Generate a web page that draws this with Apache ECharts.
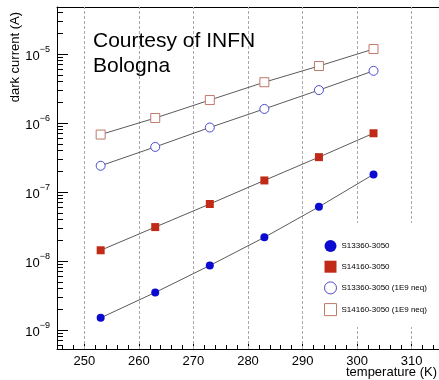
<!DOCTYPE html>
<html>
<head>
<meta charset="utf-8">
<script src="https://cdn.jsdelivr.net/npm/echarts@6/dist/echarts.min.js"></script>
<style>
  html, body { margin: 0; padding: 0; background: #fff; }
  #chart { width: 439px; height: 380px; }
</style>
</head>
<body>
<div id="chart"></div>
<script>
// temperature (K) of each measurement
const temps = [253, 263, 273, 283, 293, 303];
// dark current (A)
const s13360 = [1.5e-9, 3.5e-9, 8.6e-9, 2.2e-8, 6.1e-8, 1.8e-7];
const s14160 = [1.43e-8, 3.1e-8, 6.7e-8, 1.47e-7, 3.2e-7, 7.1e-7];
const s13360Irr = [2.4e-7, 4.5e-7, 8.6e-7, 1.6e-6, 3.0e-6, 5.7e-6];
const s14160Irr = [6.8e-7, 1.18e-6, 2.15e-6, 3.9e-6, 6.7e-6, 1.18e-5];

const names = ['S13360-3050', 'S14160-3050', 'S13360-3050 (1E9 neq)', 'S14160-3050 (1E9 neq)'];

const xTicks = [250, 260, 270, 280, 290, 300, 310];
const xMinorTicks = [246, 248, 252, 254, 256, 258, 262, 264, 266, 268, 272, 274, 276, 278,
  282, 284, 286, 288, 292, 294, 296, 298, 302, 304, 306, 308, 312, 314];
const yTicks = [1e-9, 1e-8, 1e-7, 1e-6, 1e-5];

const yMinorTicks = [];
[1e-10, 1e-9, 1e-8, 1e-7, 1e-6, 1e-5].forEach(d => {
  for (let m = 2; m <= 9; m++) {
    const v = d * m;
    if (v > 5.3e-10 && v < 4.8e-5) yMinorTicks.push(v);
  }
});

const pts = vals => temps.map((t, i) => [t, vals[i]]);

const chart = echarts.init(document.getElementById('chart'));

const lineStyle = { color: '#5a5a5a', width: 1 };

const option = {
  animation: false,
  textStyle: { fontFamily: 'Liberation Sans, Arial, sans-serif' },
  title: {
    text: 'Courtesy of INFN\nBologna',
    left: 88,
    top: 24,
    textStyle: { fontSize: 21, fontWeight: 'normal', color: '#000', lineHeight: 25 }
  },
  grid: { left: 57, right: 0, top: 7, bottom: 31 },
  legend: {
    orient: 'vertical',
    left: 312,
    top: 223,
    padding: [17, 20, 11, 12],
    itemWidth: 12,
    itemHeight: 12,
    itemGap: 8.7,
    backgroundColor: '#fff',
    textStyle: { fontSize: 8, color: '#000' },
    data: [
      { name: names[0], icon: 'circle', itemStyle: { color: '#0a0ad0' } },
      { name: names[1], icon: 'rect', itemStyle: { color: '#c02a17' } },
      { name: names[2], icon: 'circle', itemStyle: { color: '#fff', borderColor: '#4b4bd0', borderWidth: 1 } },
      { name: names[3], icon: 'rect', itemStyle: { color: '#fff', borderColor: '#c0786a', borderWidth: 1 } }
    ]
  },
  xAxis: [
    {
      type: 'value', min: 245, max: 315, position: 'bottom',
      axisLine: { lineStyle: { color: '#000' } },
      axisTick: { inside: true, length: 8, customValues: xTicks, lineStyle: { color: '#000' } },
      axisLabel: { customValues: xTicks, fontSize: 13, color: '#000', margin: 6 },
      splitLine: { show: false }
    },
    {
      type: 'value', min: 245, max: 315, position: 'bottom',
      axisLine: { show: false },
      axisTick: { inside: true, length: 4, customValues: xMinorTicks, lineStyle: { color: '#000' } },
      axisLabel: { show: false },
      splitLine: { show: false }
    },
    {
      type: 'value', min: 245, max: 315, position: 'top',
      axisLine: { lineStyle: { color: '#000' } },
      axisTick: { show: false },
      axisLabel: { show: false },
      splitLine: { show: false }
    }
  ],
  yAxis: [
    {
      type: 'log', logBase: 10, min: 5.3e-10, max: 4.8e-5, position: 'left',
      axisLine: { lineStyle: { color: '#000' } },
      axisTick: { inside: true, length: 11, customValues: yTicks, lineStyle: { color: '#000' } },
      axisLabel: {
        customValues: yTicks,
        margin: 7,
        formatter: v => '{a|10}{b|\u2212' + Math.abs(Math.round(Math.log10(v))) + '}',
        rich: {
          a: { fontSize: 13, color: '#000', lineHeight: 18, verticalAlign: 'bottom' },
          b: { fontSize: 9, color: '#000', lineHeight: 18, verticalAlign: 'top' }
        }
      },
      splitLine: { show: false }
    },
    {
      type: 'log', logBase: 10, min: 5.3e-10, max: 4.8e-5, position: 'left',
      axisLine: { show: false },
      axisTick: { inside: true, length: 6, customValues: yMinorTicks, lineStyle: { color: '#000' } },
      axisLabel: { show: false },
      splitLine: { show: false }
    }
  ],
  graphic: [
    {
      type: 'text', x: 9, y: 12, rotation: Math.PI / 2,
      style: { text: 'dark current (A)', fontSize: 13, fill: '#000', align: 'right', verticalAlign: 'top',
        fontFamily: 'Liberation Sans, Arial, sans-serif' }
    },
    {
      type: 'text', right: 2, top: 366,
      style: { text: 'temperature (K)', fontSize: 13, fill: '#000',
        fontFamily: 'Liberation Sans, Arial, sans-serif' }
    }
  ],
  series: [
    {
      name: names[0], type: 'line', data: pts(s13360),
      symbol: 'circle', symbolSize: 8,
      itemStyle: { color: '#0a0ad0' }, lineStyle: lineStyle, z: 3,
      markLine: {
        silent: true, symbol: 'none', label: { show: false },
        lineStyle: { color: '#aaa', type: [3, 2], width: 1 },
        data: xTicks.map(t => ({ xAxis: t })),
        z: 1
      }
    },
    {
      name: names[1], type: 'line', data: pts(s14160),
      symbol: 'rect', symbolSize: 8,
      itemStyle: { color: '#c02a17' }, lineStyle: lineStyle, z: 3
    },
    {
      name: names[2], type: 'line', data: pts(s13360Irr),
      symbol: 'circle', symbolSize: 9,
      itemStyle: { color: '#fff', borderColor: '#4b4bd0', borderWidth: 1 }, lineStyle: lineStyle, z: 3
    },
    {
      name: names[3], type: 'line', data: pts(s14160Irr),
      symbol: 'rect', symbolSize: 9,
      itemStyle: { color: '#fff', borderColor: '#c0786a', borderWidth: 1 }, lineStyle: lineStyle, z: 3
    }
  ]
};

chart.setOption(option);
</script>
</body>
</html>
